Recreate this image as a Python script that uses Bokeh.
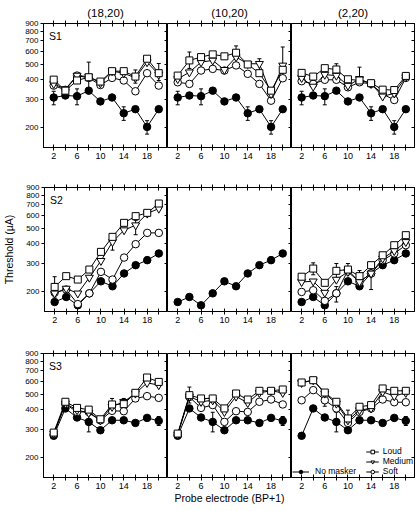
import math
from bokeh.plotting import figure
from bokeh.layouts import row, column
from bokeh.models import (LinearAxis, LogAxis, FixedTicker, Range1d, Legend, LegendItem,
                          Whisker, ColumnDataSource, TeeHead, Label, NumeralTickFormatter, Title)
from bokeh.embed import file_html
from bokeh.resources import INLINE

FONT = "Liberation Sans"

electrodes = [2, 4, 6, 8, 10, 12, 14, 16, 18, 20]
subjects = ["S1", "S2", "S3"]
maskers = ["(18,20)", "(10,20)", "(2,20)"]
x_ticks = [2, 6, 10, 14, 18]
x_minor = [4, 8, 12, 16, 20]
y_ticks = [200, 300, 400, 500, 600, 700, 800, 900]

# ---- No masker (same in all three masker columns) ----
nomask_S1 = [309, 318, 315, 341, 292, 309, 246, 261, 202, 261]
nomask_S2 = [172, 185, 164, 195, 232, 216, 260, 293, 315, 347]
nomask_S3 = [274, 407, 357, 335, 297, 343, 343, 330, 355, 340]

# ---- S1 ----
loud_S1_18 = [400, 341, 395, 414, 389, 452, 452, 418, 541, 439]
med_S1_18 = [376, 349, 424, 418, 380, 452, 439, 410, 515, 430]
soft_S1_18 = [367, 345, 424, 410, 370, 410, 395, 338, 439, 367]
loud_S1_10 = [424, 528, 554, 576, 560, 590, 498, 439, 341, 461]
med_S1_10 = [404, 445, 515, 528, 461, 554, 503, 503, 325, 491]
soft_S1_10 = [385, 376, 456, 467, 456, 491, 435, 376, 295, 408]
loud_S1_2 = [441, 418, 472, 463, 402, 395, 380, 346, 344, 422]
med_S1_2 = [410, 362, 430, 424, 367, 404, 376, 314, 328, 414]
soft_S1_2 = [391, 376, 399, 399, 358, 385, 376, 325, 298, 410]

# ---- S2 ----
loud_S2_18 = [214, 250, 238, 275, 355, 441, 540, 595, 624, 714]
med_S2_18 = [195, 209, 195, 245, 312, 410, 486, 522, 618, 664]
soft_S2_18 = [197, 206, 167, 195, 266, 238, 327, 397, 467, 467]
loud_S2_2 = [248, 279, 227, 270, 275, 250, 293, 338, 391, 452]
med_S2_2 = [230, 232, 197, 238, 266, 230, 260, 323, 360, 410]
soft_S2_2 = [199, 204, 175, 195, 272, 230, 260, 315, 347, 391]

# ---- S3 ----
loud_S3_18 = [287, 448, 410, 400, 348, 431, 433, 510, 636, 597]
med_S3_18 = [283, 437, 397, 382, 343, 417, 448, 505, 589, 570]
soft_S3_18 = [280, 433, 387, 387, 343, 393, 391, 470, 486, 474]
loud_S3_10 = [283, 493, 470, 470, 407, 505, 463, 525, 525, 535]
med_S3_10 = [280, 484, 448, 458, 387, 484, 441, 510, 525, 510]
soft_S3_10 = [280, 480, 410, 427, 335, 391, 387, 448, 463, 431]
loud_S3_2 = [592, 612, 512, 448, 352, 417, 427, 543, 525, 525]
med_S3_2 = [589, 612, 505, 437, 343, 397, 407, 517, 486, 510]
soft_S3_2 = [458, 530, 458, 407, 330, 387, 407, 463, 445, 445]

# ---- error bars: (electrode, lower, upper) ----
err_nomask_S1 = [(2, 278, 338), (6, 278, 350), (14, 222, 270), (18, 182, 221)]
err_nomask_S2 = [(18, 300, 330)]
err_nomask_S3 = [(8, 290, 385), (20, 318, 362)]
err_S1_18 = [(8, 330, 515), (20, 395, 505), (16, 380, 460)]
err_S1_10 = [(4, 470, 596), (12, 535, 651), (16, 450, 541), (20, 420, 641)]
err_S1_2 = [(8, 430, 503), (12, 370, 479)]
err_S2_18 = [(2, 185, 248), (12, 364, 440), (16, 455, 560), (20, 450, 485)]
err_S2_10 = []
err_S2_2 = [(4, 255, 303), (8, 245, 300), (10, 255, 300), (12, 235, 271), (8, 172, 215), (14, 206, 290)]
err_S3_18 = [(6, 380, 427), (14, 420, 470), (12, 395, 470)]
err_S3_10 = [(4, 440, 554)]
err_S3_2 = [(10, 310, 397), (6, 420, 500)]

panels = {
    (0, 0): (loud_S1_18, med_S1_18, soft_S1_18, err_S1_18),
    (0, 1): (loud_S1_10, med_S1_10, soft_S1_10, err_S1_10),
    (0, 2): (loud_S1_2, med_S1_2, soft_S1_2, err_S1_2),
    (1, 0): (loud_S2_18, med_S2_18, soft_S2_18, err_S2_18),
    (1, 1): (None, None, None, err_S2_10),
    (1, 2): (loud_S2_2, med_S2_2, soft_S2_2, err_S2_2),
    (2, 0): (loud_S3_18, med_S3_18, soft_S3_18, err_S3_18),
    (2, 1): (loud_S3_10, med_S3_10, soft_S3_10, err_S3_10),
    (2, 2): (loud_S3_2, med_S3_2, soft_S3_2, err_S3_2),
}
nomask = [nomask_S1, nomask_S2, nomask_S3]
err_nomask = [err_nomask_S1, err_nomask_S2, err_nomask_S3]

X0, X1 = 0.25, 21.5
Y0, Y1 = 150, 900
FRAME_H = 124
PPD = FRAME_H / math.log10(Y1 / Y0)  # pixels per decade

COL_W = [167, 124, 125]
COL_FW = [124, 124, 123]
COL_BL = [43, 0, 0]
COL_BR = [0, 0, 2]
ROW_H = [170, 165, 176]
ROW_BT = [23, 17, 18]
ROW_BB = [23, 24, 34]


def style_axis(ax, labels=True, tin=3, tout=3, size="9px"):
    ax.axis_line_color = "black"
    ax.major_tick_line_color = "black"
    ax.minor_tick_line_color = "black"
    ax.major_tick_in = tin
    ax.major_tick_out = tout
    ax.minor_tick_in = tin
    ax.minor_tick_out = tout
    ax.major_label_text_font = FONT
    ax.axis_label_text_font = FONT
    ax.axis_label_text_font_style = "normal"
    ax.axis_label_text_font_size = "10.5px"
    ax.axis_label_text_color = "black"
    if labels:
        ax.major_label_text_font_size = size
        ax.major_label_text_color = "black"
        ax.major_label_standoff = 2
    else:
        ax.major_label_text_font_size = "0px"
        ax.major_label_text_color = None
        ax.major_label_standoff = 0


def add_err(p, data):
    if not data:
        return
    src = ColumnDataSource(dict(x=[d[0] for d in data], lo=[d[1] for d in data], hi=[d[2] for d in data]))
    w = Whisker(source=src, base="x", lower="lo", upper="hi", dimension="height",
                line_color="black", line_width=1, level="underlay",
                upper_head=TeeHead(size=4, line_color="black", line_width=1),
                lower_head=TeeHead(size=4, line_color="black", line_width=1))
    p.add_layout(w)


figs = []
for r in range(3):
    rowfigs = []
    for c in range(3):
        p = figure(width=COL_W[c], height=ROW_H[r], x_range=Range1d(X0, X1), y_range=Range1d(Y0, Y1),
                   y_axis_type="log", x_axis_location=None, y_axis_location=None,
                   output_backend="svg", toolbar_location=None,
                   min_border_left=COL_BL[c], min_border_right=COL_BR[c],
                   min_border_top=ROW_BT[r], min_border_bottom=ROW_BB[r])
        p.outline_line_color = "black"
        p.outline_line_width = 1
        p.xgrid.visible = False
        p.ygrid.visible = False
        p.background_fill_color = "white"
        p.border_fill_color = "white"

        xb = LinearAxis(ticker=FixedTicker(ticks=x_ticks, minor_ticks=x_minor))
        style_axis(xb, labels=True, tin=3, tout=3, size="9px")
        if r == 2 and c == 1:
            xb.axis_label = "Probe electrode (BP+1)"
            xb.axis_label_standoff = 0
        p.add_layout(xb, "below")
        xt = LinearAxis(ticker=FixedTicker(ticks=x_ticks, minor_ticks=x_minor))
        style_axis(xt, labels=False, tin=3, tout=3)
        p.add_layout(xt, "above")
        if c == 0:
            yl = LogAxis(ticker=FixedTicker(ticks=y_ticks, minor_ticks=[]),
                         formatter=NumeralTickFormatter(format="0"))
            style_axis(yl, labels=True, tin=0, tout=3, size="8px")
            yl.major_label_standoff = 2
            if r == 1:
                yl.axis_label = "Threshold (µA)"
                yl.axis_label_standoff = 8
            p.add_layout(yl, "left")
        yr = LogAxis(ticker=FixedTicker(ticks=y_ticks, minor_ticks=[]),
                     formatter=NumeralTickFormatter(format="0"))
        style_axis(yr, labels=False, tin=3, tout=0)
        p.add_layout(yr, "right")

        if r == 0:
            t = Title(text=maskers[c], align="center", text_font=FONT, text_font_size="11.5px",
                      text_font_style="normal", text_color="black", standoff=4, offset=0)
            p.add_layout(t, "above")

        loud, med, soft, errs = panels[(r, c)]
        add_err(p, err_nomask[r])
        add_err(p, errs)

        nm_line = p.line(electrodes, nomask[r], line_color="black", line_width=1)
        nm_pts = p.scatter(electrodes, nomask[r], marker="circle", size=7.5,
                           fill_color="black", line_color="black")
        rend = {"nomask": (nm_line, nm_pts)}
        if soft is not None:
            for key, vals, mk, sz in (("soft", soft, "circle", 7.5),
                                      ("medium", med, "inverted_triangle", 8),
                                      ("loud", loud, "square", 7)):
                ln = p.line(electrodes, vals, line_color="black", line_width=1)
                sc = p.scatter(electrodes, vals, marker=mk, size=sz, fill_color="white",
                               line_color="black", line_width=1)
                rend[key] = (ln, sc)
        ppx = (X1 - X0) / COL_FW[c]
        if c == 0:
            p.add_layout(Label(x=X0 + 5.5 * ppx, y=Y1 / 10 ** (6 / PPD), text=subjects[r],
                               text_font=FONT, text_font_size="10.5px", text_baseline="top",
                               text_align="left", text_color="black"))
        if r == 2 and c == 2:
            leg1 = Legend(items=[LegendItem(label="Loud", renderers=list(rend["loud"])),
                                 LegendItem(label="Medium", renderers=list(rend["medium"])),
                                 LegendItem(label="Soft", renderers=list(rend["soft"]))],
                          location="bottom_right")
            leg2 = Legend(items=[LegendItem(label="No masker", renderers=list(rend["nomask"]))],
                          location="bottom_left")
            for lg, gw, st in ((leg1, 13, 4), (leg2, 17, 6)):
                lg.label_text_font = FONT
                lg.label_text_font_size = "8.5px"
                lg.label_text_color = "black"
                lg.label_height = 9
                lg.glyph_height = 9
                lg.glyph_width = gw
                lg.label_standoff = st
                lg.spacing = 0
                lg.padding = 0
                lg.margin = 1
                lg.border_line_color = None
                lg.background_fill_alpha = 0
                p.add_layout(lg)
        rowfigs.append(p)
    figs.append(row(*rowfigs, spacing=0))

layout = column(*figs, spacing=0)
open("out.html", "w").write(file_html(layout, INLINE))
